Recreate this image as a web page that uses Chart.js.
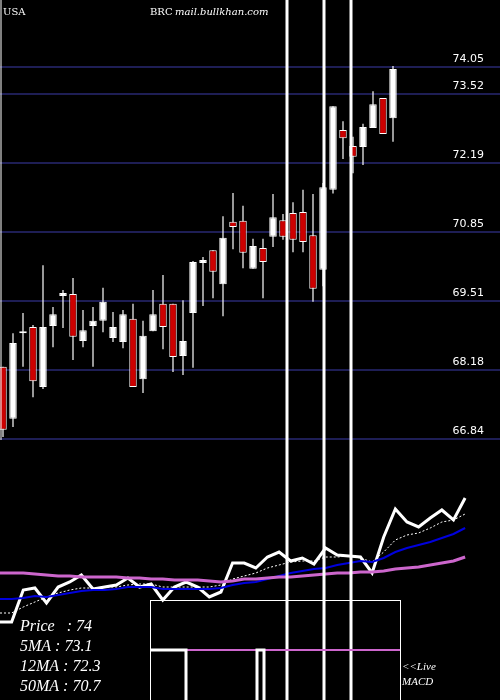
<!DOCTYPE html>
<html>
<head>
<meta charset="utf-8">
<script src="https://cdn.jsdelivr.net/npm/chart.js@4.4.1/dist/chart.umd.min.js"></script>
<style>
  html, body { margin: 0; padding: 0; background: #000; }
  #wrap { width: 500px; height: 700px; position: relative; }
</style>
</head>
<body>
<div id="wrap"><canvas id="c" width="500" height="700"></canvas></div>
<script>
// candles: open, high, low, close
const opens  = [68.24,67.23,68.93,69.01,67.85,69.03,69.61,69.65,68.74,69.03,69.13,68.80,68.72,69.17,68.00,68.93,69.46,69.46,68.45,69.28,70.25,70.50,69.84,71.05,71.07,70.14,70.54,70.76,71.08,71.22,71.24,70.79,70.12,71.67,72.83,72.52,72.50,72.87,73.45,73.06];
const highs  = [68.24,68.89,69.28,69.05,70.21,69.40,69.73,69.96,69.34,69.40,69.77,69.30,69.34,69.46,69.13,69.73,70.02,69.46,69.53,70.29,70.37,70.50,71.16,71.61,71.36,70.72,70.72,71.59,71.20,71.43,71.67,71.59,71.80,73.29,73.00,72.70,72.95,73.58,73.45,74.07];
const lows   = [66.88,67.07,68.24,67.65,67.81,68.62,68.99,68.37,68.62,68.24,68.91,68.72,68.60,67.85,67.73,68.93,68.58,68.14,68.08,68.22,69.42,69.57,69.22,70.52,70.15,70.14,69.57,70.56,70.70,70.46,70.46,69.50,69.80,71.60,72.27,71.99,72.15,72.87,72.75,72.60];
const closes = [67.02,68.70,68.89,67.96,69.01,69.26,69.67,68.82,68.95,69.13,69.50,69.01,69.26,67.85,68.84,69.26,69.01,68.43,68.74,70.27,70.31,70.08,70.74,70.95,70.45,70.58,70.27,71.14,70.76,70.70,70.66,69.75,71.72,73.29,72.67,72.31,72.89,73.33,72.75,74.01];

const priceTicks = [74.05, 73.52, 72.19, 70.85, 69.51, 68.18, 66.84];

// lower panel (index units)
const priceLine = [78,78,110,112,97,113,118,125,111,113,115,122,113,116,100,113,118,113,103,108,137,137,132,143,148,139,142,136,152,145,144,143,127,163,191,178,173,182,190,180,202];
const ma5  = [87,87,93,98,103,107,110,112,112,113,113,115,116,116,113,113,113,113,113,115,121,124,127,132,135,138,139,139,143,143,144,142,138,148,160,165,167,172,178,180,186];
const ma12 = [101,101,102,104,103,105,107,109,110,110,111,113,113,113,111,111,111,111,111,112,115,117,118,121,124,127,129,131,132,135,137,139,138,142,148,152,155,158,162,166,172];
const ma50 = [127,127,127,126,125,124,124,123,123,123,123,122,122,121,121,120,120,120,119,118,119,121,121,122,123,123,124,125,126,127,127,128,128,129,131,132,133,135,137,139,143];

const spikes = [28.4, 32.1, 34.8];

const idx = opens.map((_, i) => i);
const bodies = idx.map(i => ({ x: i, y: [opens[i], closes[i]] }));
const wicks = idx.map(i => ({ x: i, y: [lows[i], highs[i]] }));
const bodyColors = idx.map(i => closes[i] >= opens[i] ? "#ffffff" : "#cc0000");
const line = arr => arr.map((v, i) => ({ x: i, y: v }));

const spikeSets = spikes.map(s => ({
  type: "line", xAxisID: "x", yAxisID: "y",
  data: [{ x: s, y: 61.5 }, { x: s, y: 75.5 }],
  borderColor: "#ffffff", borderWidth: 3, pointRadius: 0, order: 0
}));

const decor = {
  id: "decor",
  afterDraw(chart) {
    const ctx = chart.ctx;
    const y = chart.scales.y;
    ctx.save();
    ctx.fillStyle = "#ffffff";
    ctx.font = "11px 'DejaVu Sans'";
    ctx.textAlign = "right";
    priceTicks.forEach(v => ctx.fillText(v.toFixed(2), 484, y.getPixelForValue(v) - 5));
    ctx.textAlign = "left";
    ctx.strokeStyle = "#ffffff";
    ctx.lineWidth = 1;
    ctx.beginPath(); ctx.moveTo(1, 0); ctx.lineTo(1, 440); ctx.stroke();
    // macd box
    ctx.strokeRect(150.5, 600.5, 250, 110);
    ctx.strokeStyle = "#cc66cc";
    ctx.lineWidth = 2;
    ctx.beginPath(); ctx.moveTo(186, 650); ctx.lineTo(400, 650); ctx.stroke();
    ctx.strokeStyle = "#ffffff";
    ctx.lineWidth = 3;
    ctx.beginPath(); ctx.moveTo(151, 650); ctx.lineTo(186, 650); ctx.lineTo(186, 700); ctx.stroke();
    ctx.beginPath(); ctx.moveTo(257, 700); ctx.lineTo(257, 650); ctx.lineTo(264, 650); ctx.lineTo(264, 700); ctx.stroke();
    // texts
    ctx.font = "10px 'DejaVu Serif'";
    ctx.fillText("USA", 3, 15);
    ctx.fillText("BRC", 150, 15);
    ctx.font = "italic 10px 'DejaVu Serif'";
    ctx.fillText("mail.bullkhan.com", 175, 15);
    ctx.font = "italic 16px 'Liberation Serif'";
    ctx.fillText("Price   : 74", 20, 631);
    ctx.fillText("5MA : 73.1", 20, 651);
    ctx.fillText("12MA : 72.3", 20, 671);
    ctx.fillText("50MA : 70.7", 20, 691);
    ctx.font = "italic 11px 'Liberation Serif'";
    ctx.fillText("<<Live", 402, 670);
    ctx.fillText("MACD", 402, 685);
    ctx.restore();
  }
};

new Chart(document.getElementById("c"), {
  type: "bar",
  data: {
    datasets: [
      { type: "bar", data: bodies, backgroundColor: bodyColors, borderColor: "#ffffff", borderWidth: 1,
        borderSkipped: false, grouped: false, barPercentage: 0.75, categoryPercentage: 1, order: 1 },
      { type: "bar", data: wicks, backgroundColor: "#ffffff", grouped: false,
        barPercentage: 0.12, categoryPercentage: 1, order: 2 },
      { type: "line", data: line(ma50), xAxisID: "x2", yAxisID: "y2", borderColor: "#cc66cc", borderWidth: 3, pointRadius: 0, order: 3 },
      { type: "line", data: line(ma12), xAxisID: "x2", yAxisID: "y2", borderColor: "#0000dd", borderWidth: 2, pointRadius: 0, order: 3 },
      { type: "line", data: line(ma5), xAxisID: "x2", yAxisID: "y2", borderColor: "#ffffff", borderWidth: 1, borderDash: [2, 2], pointRadius: 0, order: 3 },
      { type: "line", data: line(priceLine), xAxisID: "x2", yAxisID: "y2", borderColor: "#ffffff", borderWidth: 3, pointRadius: 0, order: 3 },
      ...spikeSets
    ]
  },
  options: {
    responsive: false,
    animation: false,
    layout: { padding: 0, autoPadding: false },
    plugins: { legend: { display: false }, tooltip: { enabled: false } },
    scales: {
      x: { type: "linear", min: -0.3, max: 49.7, offset: false, display: false },
      x2: { type: "linear", min: 0, max: 43, offset: false, display: false },
      y: {
        position: "right", min: 61.78, max: 75.35,
        afterBuildTicks: axis => { axis.ticks = priceTicks.map(v => ({ value: v })); },
        afterFit: axis => { axis.width = 0; axis.paddingTop = 0; axis.paddingBottom = 0; },
        grid: { color: "#1e1e55", lineWidth: 2, drawTicks: false },
        border: { display: false },
        ticks: { display: false }
      },
      y2: { min: 0, max: 700, display: false }
    }
  },
  plugins: [decor]
});
</script>
</body>
</html>
